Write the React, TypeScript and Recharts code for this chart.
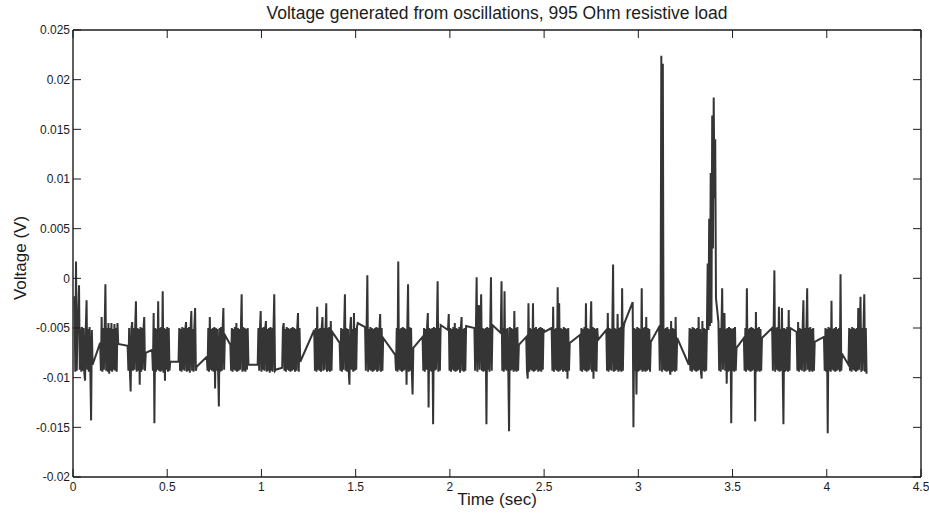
import { Line, LineChart, XAxis, YAxis } from "recharts";

// sample interval inside a recorded burst (s)
const DT = 0.004;

// start time of each recorded burst (s)
const burstStarts = [
  0.008, 0.144, 0.29, 0.42, 0.56, 0.71, 0.835, 0.98, 1.11, 1.28,
  1.415, 1.55, 1.71, 1.855, 1.99, 2.13, 2.27, 2.405, 2.54, 2.69,
  2.83, 2.97, 3.11, 3.268, 3.425, 3.56, 3.71, 3.84, 3.985, 4.115,
];

// samples of each burst, in mV
const burstMv = [
  [-1.8, -9.4, 1.7, -9.3, -5.0, -3.5, -0.7, -9.2, -5.1, -9.4, -4.9, -9.3, -5.0, -9.5, -10.3, -5.0, -2.2, -9.2, -5.1, -9.4, -4.9, -9.3, -14.3, -5.2, -8.7],
  [-6.5, -9.3, -3.9, -9.4, -5.0, -9.2, -5.1, -0.6, -9.3, -5.0, -9.4, -4.5, -9.6, -5.0, -9.3, -4.5, -9.4, -5.1, -9.2, -4.6, -9.3, -5.0, -9.4, -4.5, -6.6],
  [-6.8, -9.3, -5.0, -9.4, -11.4, -5.1, -4.4, -9.3, -5.0, -9.2, -4.9, -2.3, -9.4, -5.0, -9.3, -5.1, -10.7, -4.9, -9.4, -5.0, -9.2, -5.1, -3.9, -9.3, -7.5],
  [-7.2, -9.3, -3.5, -14.6, -5.0, -9.4, -5.1, -9.2, -2.3, -9.3, -5.0, -9.4, -4.9, -9.3, -1.3, -9.5, -5.0, -10.3, -5.1, -9.2, -4.9, -9.4, -5.0, -9.3, -8.4],
  [-8.4, -5.0, -9.3, -5.1, -9.4, -4.9, -9.2, -5.0, -9.3, -5.1, -4.4, -9.4, -5.0, -9.3, -4.9, -9.5, -5.0, -3.3, -9.3, -5.1, -9.4, -4.9, -3.0, -9.3, -8.9],
  [-7.9, -9.3, -5.0, -9.4, -3.9, -9.2, -5.1, -9.3, -5.0, -9.4, -4.9, -11.1, -5.0, -9.3, -5.1, -9.2, -12.9, -5.0, -9.4, -4.9, -9.3, -5.1, -3.0, -9.2, -5.7],
  [-6.7, -9.3, -5.0, -9.4, -5.1, -9.2, -4.9, -9.3, -4.5, -9.4, -5.0, -9.3, -5.1, -9.2, -5.0, -1.6, -9.4, -4.9, -9.3, -5.0, -9.4, -5.1, -9.2, -5.0, -8.7],
  [-8.7, -5.0, -9.3, -5.1, -3.3, -9.4, -5.0, -9.2, -4.9, -9.3, -5.0, -4.3, -9.4, -5.1, -9.3, -5.0, -9.5, -4.9, -9.3, -5.0, -9.4, -5.1, -1.6, -9.3, -9.2],
  [-9.0, -5.0, -4.5, -9.3, -5.1, -9.4, -4.9, -9.2, -5.0, -9.3, -5.1, -9.4, -5.0, -9.3, -4.9, -9.2, -5.0, -9.4, -5.1, -9.3, -5.0, -3.5, -9.4, -5.0, -8.4],
  [-5.2, -9.3, -5.0, -9.4, -2.85, -9.2, -5.1, -9.3, -5.0, -9.4, -4.9, -3.9, -9.3, -5.0, -9.2, -5.1, -2.5, -9.4, -5.0, -9.3, -4.9, -9.4, -4.3, -9.3, -5.4],
  [-6.5, -9.3, -5.0, -9.4, -5.1, -9.2, -4.9, -1.6, -9.3, -5.0, -9.4, -5.1, -9.3, -10.7, -5.0, -3.9, -9.2, -5.1, -9.4, -3.5, -9.3, -5.0, -9.2, -4.9, -4.5],
  [-4.9, -9.3, -5.0, 0.3, -9.4, -5.1, -9.2, -4.9, -9.3, -5.0, -9.4, -5.1, -9.3, -5.0, -9.2, -4.9, -9.4, -5.0, -9.3, -5.1, -3.6, -9.4, -5.0, -9.3, -6.0],
  [-7.7, -9.3, -5.0, -9.4, 1.7, -9.2, -5.1, -9.3, -5.0, -9.4, -4.9, -9.3, -5.0, -9.2, -5.1, -10.7, -5.0, -0.6, -9.4, -4.9, -9.3, -5.0, -9.4, -11.7, -7.0],
  [-5.9, -9.3, -5.0, -9.4, -5.1, -9.2, -4.9, -3.5, -13.0, -5.0, -9.3, -5.1, -9.4, -5.0, -14.7, -4.9, -9.3, -5.0, -9.2, -5.1, -0.3, -9.4, -5.0, -9.3, -4.7],
  [-5.2, -3.6, -9.3, -5.0, -9.4, -5.1, -9.2, -4.9, -9.3, -4.5, -9.4, -5.0, -9.3, -5.1, -9.2, -4.9, -9.5, -5.0, -3.9, -9.3, -5.1, -9.4, -5.0, -9.3, -4.8],
  [-5.0, -9.3, -5.1, 0.1, -9.4, -5.0, -2.7, -9.2, -4.9, -1.6, -9.3, -5.0, -9.4, -5.1, -9.3, -5.0, -14.7, -4.9, -9.2, -5.0, -9.4, -5.1, 0.1, -9.3, -4.7],
  [-5.5, -0.3, -9.3, -5.0, -9.4, -1.3, -9.2, -5.1, -9.3, -5.0, -9.4, -15.4, -4.9, -9.3, -5.0, -9.2, -5.1, -9.4, -3.3, -9.3, -5.0, -9.4, -4.9, -9.3, -6.7],
  [-5.9, -9.3, -10.1, -2.5, -9.4, -5.0, -9.2, -5.1, -9.3, -2.5, -9.4, -5.0, -9.3, -4.9, -9.2, -5.1, -9.4, -5.0, -9.3, -4.9, -9.4, -5.0, -9.2, -5.1, -5.4],
  [-5.0, -9.3, -2.85, -9.4, -5.1, -9.2, -5.0, -9.3, -0.9, -9.4, -2.5, -9.3, -5.0, -9.2, -5.1, -9.4, -4.9, -9.3, -5.0, -9.4, -5.1, -10.1, -5.0, -9.3, -6.5],
  [-5.7, -9.3, -5.0, -9.4, -5.1, -9.2, -4.9, -9.3, -2.5, -9.4, -5.0, -9.3, -5.1, -9.2, -5.0, -2.3, -9.4, -4.9, -10.1, -5.0, -9.3, -5.1, -9.4, -5.0, -6.2],
  [-5.2, -9.3, -3.5, -9.4, -5.0, -9.2, -5.1, -9.3, -4.9, 1.4, -9.4, -5.0, -9.3, -5.1, -9.2, -3.6, -9.4, -5.0, -9.3, -4.9, -9.4, -1.0, -9.3, -5.0, -4.5],
  [-2.4, -15.0, -5.0, -9.3, -5.1, -11.7, -4.9, -9.4, -5.0, -9.3, -5.1, -9.2, -1.0, -9.4, -5.0, -9.3, -4.9, -9.4, -3.9, -9.3, -5.0, -9.2, -5.1, -9.4, -6.4],
  [-4.9, -9.3, -5.0, 22.4, -9.4, 21.6, -9.2, -5.1, -9.3, -5.0, -9.4, -4.9, -9.3, -5.1, -9.2, -9.7, -4.3, -9.4, -5.0, -9.3, -5.1, -9.4, -3.9, -9.3, -6.0],
  [-8.7, -5.0, -9.3, -5.1, -9.4, -4.9, -9.2, -5.0, -9.3, -5.1, -9.4, -5.0, -9.3, -3.9, -9.2, -5.1, -9.4, -10.1, -4.3, -9.3, -5.0, -9.4, -5.1, -9.3, -5.0,
    1.5, -5.2, 6.0, -4.8, 10.6, -4.5, 16.4, 3.0, 18.2, 8.0, 14.0, -2.0],
  [-4.4, -9.3, -5.0, -9.4, -5.1, -1.0, -9.2, -5.0, -3.5, -9.3, -5.1, -10.6, -5.0, -9.4, -4.9, -9.3, -5.0, -14.6, -5.1, -9.3, -5.0, -9.4, -4.9, -9.3, -7.0],
  [-6.0, -9.3, -5.0, -9.4, -1.0, -9.2, -5.1, -9.3, -5.0, -9.4, -4.9, -9.3, -5.0, -9.2, -5.1, -14.4, -3.4, -9.4, -5.0, -9.3, -4.9, -9.4, -5.1, -9.3, -6.0],
  [-5.0, -9.3, -5.1, 0.8, -9.4, -5.0, -9.2, -4.9, -9.3, -2.85, -9.4, -5.1, -9.3, -3.0, -9.2, -14.7, -5.0, -9.4, -5.1, -9.3, -4.9, -9.4, -3.2, -9.3, -5.0],
  [-5.4, -9.3, -4.4, -9.4, -5.0, -9.2, -5.1, -9.3, -4.9, -2.2, -9.4, -5.0, -9.3, -5.1, -1.0, -9.2, -5.0, -9.4, -4.9, -9.3, -5.1, -9.4, -5.0, -9.3, -6.4],
  [-5.9, -9.3, -5.0, -9.4, -5.1, -15.6, -4.9, -9.3, -5.0, -9.4, -2.25, -9.2, -5.1, -9.3, -5.0, -9.4, -4.9, -9.3, -5.1, -9.2, -5.0, -9.4, 0.4, -9.3, -7.6],
  [-8.7, -5.0, -9.3, -5.1, -9.4, -4.9, -9.2, -5.0, -9.3, -5.1, -9.4, -5.0, -9.3, -3.0, -9.2, -5.1, -1.85, -9.4, -5.0, -9.3, -4.9, -1.6, -9.4, -5.0, -9.6],
];

const xTicks = [0, 0.5, 1, 1.5, 2, 2.5, 3, 3.5, 4, 4.5];
const yTicks = [-0.02, -0.015, -0.01, -0.005, 0, 0.005, 0.01, 0.015, 0.02, 0.025];

const data: { t: number; v: number }[] = [];
burstMv.forEach((vals, b) => {
  vals.forEach((mv, i) => {
    data.push({ t: burstStarts[b] + i * DT, v: mv / 1000 });
  });
});

const FONT = '"Liberation Sans", Arial, sans-serif';
const INK = "#1c1c1c";
const tickStyle = { fontSize: 12, fill: INK, fontFamily: FONT };
const noLabel = () => <g />;
const frame = { stroke: INK, strokeWidth: 1.4 };

export default function App() {
  return (
    <div style={{ position: "absolute", left: 0, top: 0, width: 929, height: 516, background: "#fff", fontFamily: FONT, color: INK }}>
      <div style={{ position: "absolute", left: 73, top: 5, width: 848, textAlign: "center", fontSize: 17.5, lineHeight: "17.5px" }}>
        Voltage generated from oscillations, 995 Ohm resistive load
      </div>
      <div style={{ position: "absolute", left: 73, top: 491, width: 848, textAlign: "center", fontSize: 17, lineHeight: "17px" }}>
        Time (sec)
      </div>
      <div
        style={{
          position: "absolute",
          left: 20,
          top: 258,
          fontSize: 17,
          lineHeight: "17px",
          whiteSpace: "nowrap",
          transform: "translate(-50%, -50%) rotate(-90deg)",
        }}
      >
        Voltage (V)
      </div>
      <LineChart width={929} height={516} data={data} margin={{ top: 29, right: 7, bottom: 0, left: 0 }}>
        <XAxis
          xAxisId="bottom"
          dataKey="t"
          type="number"
          domain={[0, 4.5]}
          ticks={xTicks}
          interval={0}
          allowDataOverflow
          height={39}
          tickSize={-8}
          tickMargin={13}
          tick={tickStyle}
          axisLine={frame}
          tickLine={{ stroke: INK }}
        />
        <XAxis
          xAxisId="top"
          orientation="top"
          dataKey="t"
          type="number"
          domain={[0, 4.5]}
          ticks={xTicks}
          interval={0}
          allowDataOverflow
          height={1}
          tickSize={-8}
          tick={noLabel}
          axisLine={frame}
          tickLine={{ stroke: INK }}
        />
        <YAxis
          yAxisId="left"
          type="number"
          domain={[-0.02, 0.025]}
          ticks={yTicks}
          interval={0}
          allowDataOverflow
          width={73}
          tickSize={-8}
          tickMargin={11}
          tick={tickStyle}
          tickFormatter={(v: number) => String(v)}
          axisLine={frame}
          tickLine={{ stroke: INK }}
        />
        <YAxis
          yAxisId="right"
          orientation="right"
          type="number"
          domain={[-0.02, 0.025]}
          ticks={yTicks}
          interval={0}
          allowDataOverflow
          width={1}
          tickSize={-8}
          tick={noLabel}
          axisLine={frame}
          tickLine={{ stroke: INK }}
        />
        {/* same trace bound to the top/right axes so the box axes render; not stroked */}
        <Line
          xAxisId="top"
          yAxisId="right"
          type="linear"
          dataKey="v"
          stroke="none"
          dot={false}
          activeDot={false}
          isAnimationActive={false}
        />
        <Line
          xAxisId="bottom"
          yAxisId="left"
          type="linear"
          dataKey="v"
          stroke="#353535"
          strokeWidth={2}
          strokeLinejoin="miter"
          dot={false}
          activeDot={false}
          isAnimationActive={false}
        />
      </LineChart>
    </div>
  );
}
